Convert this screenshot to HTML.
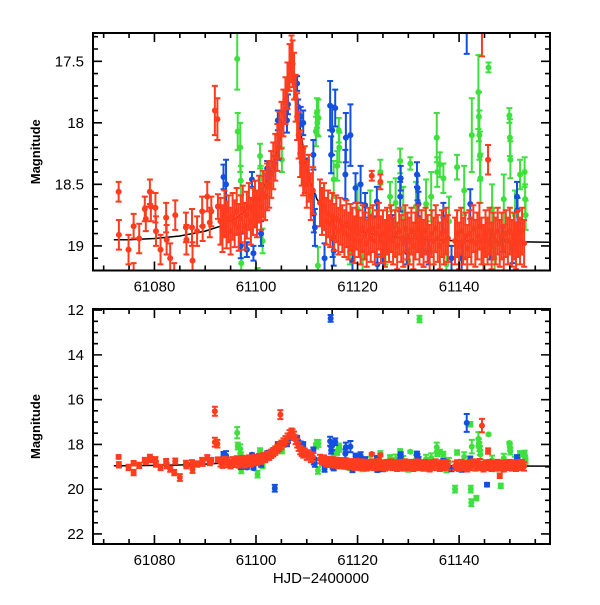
<!DOCTYPE html>
<html><head><meta charset="utf-8"><style>
html,body{margin:0;padding:0;background:#fff}
svg text{font-family:"Liberation Sans",sans-serif;fill:#000}
</style></head><body>
<svg id="c" width="600" height="600" viewBox="0 0 600 600" xmlns="http://www.w3.org/2000/svg"></svg>
<script>
const modelT=[61072,61075,61080,61085,61090,61093,61096,61099,61101,61103,61104.5,61105.5,61106.3,61106.8,61107.0,61107.3,61107.8,61108.5,61109.5,61110.5,61112,61114,61117,61120,61125,61130,61140,61158];
const modelM=[18.95,18.95,18.94,18.92,18.88,18.84,18.78,18.68,18.57,18.38,18.18,17.95,17.72,17.55,17.48,17.55,17.75,18.0,18.25,18.45,18.62,18.74,18.83,18.88,18.92,18.94,18.96,18.97];

const redT=[61072.95,61073.0,61074.9,61075.9,61075.9,61077.0,61078.1,61078.3,61079.1,61079.3,61080.2,61080.3,61081.2,61082.3,61082.4,61083.1,61083.9,61084.1,61085.0,61086.2,61086.3,61087.4,61087.5,61088.4,61089.4,61089.5,61090.4,61090.9,61091.2,61091.9,61091.9,61092.4,61092.5,61104.8,61122.8,61124.5,61145.7,61144.5,61148.0];
const redM=[18.56,18.91,19.03,18.84,19.26,18.94,18.70,18.78,18.56,18.68,18.69,18.88,19.03,18.77,18.95,19.10,19.26,18.75,19.48,18.85,18.95,18.85,19.12,18.88,18.72,18.84,18.60,18.81,18.72,16.52,17.90,17.97,18.68,16.67,18.43,18.48,18.30,17.16,19.40];
const redE=[0.08,0.12,0.12,0.1,0.12,0.12,0.1,0.1,0.1,0.12,0.12,0.12,0.12,0.12,0.12,0.12,0.12,0.12,0.15,0.12,0.12,0.15,0.15,0.12,0.12,0.12,0.12,0.12,0.12,0.2,0.2,0.17,0.1,0.2,0.04,0.06,0.12,0.3,0.1];

const redDenseT=[61093.0,61093.4,61093.8,61094.2,61094.6,61095.0,61095.4,61095.8,61096.2,61096.6,61097.0,61097.4,61097.8,61098.2,61098.6,61099.0,61099.4,61099.8,61100.2,61100.6,61101.0,61101.4,61101.8,61102.2,61102.6,61103.0,61103.4,61103.8,61104.2,61104.6,61105.0,61105.4,61105.8,61106.2,61106.6,61107.0,61107.2,61107.5,61107.8,61108.1,61108.4,61108.7,61109.0,61109.3,61109.6,61110.0,61110.4,61110.8,61111.2,61112.6,61113.0,61113.4,61113.8,61114.2,61114.6,61115.0,61115.4,61115.8,61116.2,61116.6,61117.0,61117.4,61117.8,61118.2,61118.6,61119.0,61119.4,61119.8,61120.2,61120.6,61121.0,61121.4,61121.8,61122.2,61122.6,61123.0,61123.4,61123.8,61124.2,61124.6,61125.0,61125.4,61125.8,61126.2,61126.6,61127.0,61127.4,61127.8,61128.2,61128.6,61129.0,61129.4,61129.8,61130.2,61130.6,61131.0,61131.4,61131.8,61132.2,61132.6,61133.0,61133.4,61133.8,61134.2,61134.6,61135.0,61135.4,61135.8,61136.2,61136.6,61137.0,61137.4,61137.8,61139.2,61139.6,61140.0,61140.4,61140.8,61141.2,61141.6,61142.0,61142.4,61142.8,61143.2,61143.6,61144.0,61144.4,61144.8,61145.2,61145.6,61146.0,61146.4,61146.8,61147.2,61147.6,61148.0,61148.4,61148.8,61149.2,61149.6,61150.0,61150.4,61150.8,61151.2,61151.6,61152.0,61152.4,61152.8];
const redDenseM=[18.80,18.86,18.74,18.83,18.78,18.88,18.76,18.82,18.72,18.85,18.78,18.70,18.84,18.75,18.68,18.80,18.72,18.66,18.74,18.62,18.68,18.58,18.60,18.52,18.50,18.42,18.35,18.28,18.20,18.10,18.02,17.92,17.82,17.70,17.55,17.48,17.52,17.62,17.80,17.95,18.10,18.25,18.32,18.40,18.38,18.50,18.45,18.60,18.55,18.65,18.72,18.68,18.80,18.74,18.82,18.76,18.85,18.78,18.88,18.80,18.86,18.90,18.82,18.92,18.85,18.88,18.95,18.84,18.90,18.96,18.86,18.92,18.98,18.88,18.94,18.86,18.96,18.90,18.84,18.95,18.90,18.98,18.88,18.94,18.86,18.96,18.90,19.00,18.88,18.94,18.98,18.86,18.92,18.96,18.88,19.00,18.92,18.86,18.96,18.90,18.98,18.88,18.94,19.02,18.90,18.96,18.86,18.94,19.00,18.90,18.96,18.88,18.94,18.96,18.90,19.00,18.88,18.96,18.92,19.02,18.90,18.96,18.86,18.98,18.92,18.84,18.96,19.02,18.90,18.96,18.88,19.00,18.92,18.96,18.88,18.98,18.92,19.02,18.90,18.96,18.88,18.98,18.92,19.00,18.90,18.96,18.88,18.98];
const redDenseErr=0.19;

const blueT=[61093.6,61093.9,61094.1,61098.2,61099.2,61099.4,61099.5,61102.2,61102.4,61103.5,61103.7,61104.3,61104.4,61106.1,61106.3,61108.1,61108.3,61108.8,61109.3,61110.0,61111.3,61111.4,61111.6,61114.6,61114.7,61114.8,61115.0,61115.1,61115.3,61115.6,61117.6,61117.7,61118.6,61119.6,61120.6,61121.5,61123.8,61123.9,61126.8,61128.4,61128.5,61129.7,61131.7,61131.8,61132.0,61136.9,61141.5,61142.2,61145.5,61146.1,61151.4,61151.5,61134.0,61138.5,61148.5,61097.0,61101.0,61113.5,61119.0,61125.0,61133.0,61140.5,61150.5];
const blueM=[18.44,18.80,18.50,19.03,18.46,18.70,19.06,18.37,18.45,18.33,19.96,17.98,18.20,17.98,17.85,17.68,17.87,17.95,18.00,18.39,18.26,18.74,18.85,17.86,12.37,18.26,18.06,18.94,19.04,17.88,18.42,18.12,18.10,18.53,18.50,18.67,18.64,19.15,18.85,18.60,18.45,19.05,18.42,18.53,18.66,18.77,17.04,18.66,19.80,18.99,18.60,18.71,19.05,19.10,18.95,19.0,18.9,19.1,19.12,19.08,19.05,19.1,19.02];
const blueE=[0.1,0.08,0.2,0.06,0.06,0.08,0.06,0.06,0.08,0.06,0.15,0.08,0.1,0.1,0.08,0.06,0.06,0.08,0.1,0.1,0.12,0.15,0.15,0.2,0.15,0.15,0.2,0.15,0.12,0.15,0.2,0.2,0.25,0.12,0.15,0.1,0.12,0.08,0.1,0.12,0.1,0.1,0.1,0.1,0.1,0.12,0.4,0.12,0.08,0.12,0.12,0.1,0.1,0.1,0.1,0.1,0.1,0.12,0.12,0.12,0.12,0.12,0.12];

const greenT=[61096.3,61096.4,61096.9,61097.0,61097.1,61100.3,61100.8,61100.9,61101.3,61105.1,61112.0,61112.1,61112.3,61111.8,61112.2,61115.3,61116.3,61116.4,61116.0,61124.5,61126.4,61128.4,61130.4,61132.2,61135.6,61135.7,61136.2,61136.9,61139.2,61139.6,61142.2,61142.3,61142.4,61142.5,61143.4,61143.8,61143.9,61144.0,61144.1,61144.2,61145.8,61148.2,61149.9,61150.0,61150.1,61152.0,61152.9,61153.0,61153.1,61121.0,61125.5,61130.0,61137.5,61147.0,61118.5,61120.0,61122.5,61127.5,61129.0,61131.5,61134.5,61138.0,61141.0,61146.5,61148.8,61151.0,61133.5];
const greenM=[17.48,18.07,18.20,18.47,19.14,19.33,18.27,18.45,18.96,18.30,17.92,18.00,17.96,18.07,19.16,18.46,18.06,18.20,18.35,18.40,18.60,18.31,18.33,12.40,18.12,18.40,18.34,18.45,20.00,18.36,17.10,20.00,20.60,18.10,20.40,17.75,17.95,18.10,18.27,18.45,17.55,19.85,17.94,18.12,18.30,18.42,18.40,18.62,18.75,19.10,19.05,19.12,19.15,19.10,19.05,18.70,18.75,18.65,18.72,18.68,18.60,18.80,18.55,18.70,18.62,18.75,18.66];
const greenE=[0.25,0.15,0.2,0.12,0.15,0.15,0.1,0.1,0.1,0.1,0.12,0.1,0.15,0.12,0.15,0.15,0.1,0.12,0.12,0.1,0.12,0.1,0.05,0.15,0.2,0.12,0.1,0.12,0.15,0.1,0.1,0.15,0.15,0.3,0.1,0.3,0.2,0.2,0.2,0.2,0.04,0.1,0.06,0.15,0.15,0.12,0.12,0.12,0.12,0.1,0.1,0.1,0.1,0.1,0.1,0.2,0.2,0.2,0.2,0.2,0.2,0.2,0.2,0.2,0.2,0.2,0.2];

const topYTicks=[17.5,18,18.5,19];
const topYLabels=["17.5","18","18.5","19"];
const botYTicks=[12,14,16,18,20,22];
const botYLabels=["12","14","16","18","20","22"];
const xTicks=[61080,61100,61120,61140];
const xLabels=["61080","61100","61120","61140"];

const NS="http://www.w3.org/2000/svg";
const svg=document.getElementById('c');
const X0=93,X1=550,T0=61067.9,T1=61157.9;
function xs(t){return X0+(t-T0)/(T1-T0)*(X1-X0);}
const P=[{y0:33,y1:270.5,m0:17.27,m1:19.2,name:'top'},{y0:309,y1:544,m0:11.95,m1:22.45,name:'bottom'}];
function ys(p,m){return p.y0+(m-p.m0)/(p.m1-p.m0)*(p.y1-p.y0);}
function el(tag,a,parent){const e=document.createElementNS(NS,tag);for(const k in a)e.setAttribute(k,a[k]);(parent||svg).appendChild(e);return e;}

P.forEach((p,pi)=>{
  const g=el('g',{});
  
  
  const cid='clip'+pi;
  const defs=el('defs',{},g);
  const cp=el('clipPath',{id:cid},defs);
  el('rect',{x:X0,y:p.y0,width:X1-X0,height:p.y1-p.y0},cp);
  const dg=el('g',{'clip-path':'url(#'+cid+')'},g);
  
  
  let d='';
  modelT.forEach((t,i)=>{d+=(i?'L':'M')+xs(t).toFixed(1)+','+ys(p,modelM[i]).toFixed(1);});
  const ml=el('path',{d:d,fill:'none',stroke:'#000','stroke-width':1.5},dg);
  
  
  function series(T,M,E,color,name){
    const sg=el('g',{},dg);
    
    
    T.forEach((t,i)=>{
      const e=Array.isArray(E)?E[i]:E;
      const x=xs(t),y=ys(p,M[i]),ya=ys(p,M[i]-e),yb=ys(p,M[i]+e);
      el('path',{d:`M${x},${ya}L${x},${yb}M${x-3},${ya}L${x+3},${ya}M${x-3},${yb}L${x+3},${yb}`,stroke:color,'stroke-width':2,fill:'none'},sg);
      const c=el('circle',{cx:x,cy:y,r:3,fill:color},sg);
      
      
    });
  }
  series(greenT,greenM,greenE,'#3ee03e','green');
  series(blueT,blueM,blueE,'#1450e0','blue');
  series(redT,redM,redE,'#ff3c1e','red');
  series(redDenseT,redDenseM,redDenseErr,'#ff3c1e','red-dense');
  const fr=el('rect',{x:X0,y:p.y0,width:X1-X0,height:p.y1-p.y0,fill:'none',stroke:'#000','stroke-width':2},g);
  
  
  let td='';
  for(let t=61070;t<=T1;t+=5){const x=xs(t);const L=(t%20===0)?9:5;td+=`M${x},${p.y1}L${x},${p.y1-L}M${x},${p.y0}L${x},${p.y0+L}`;}
  const maj=pi===0?0.5:2, mn=pi===0?0.1:0.5;
  const start=Math.ceil(p.m0/mn-1e-6)*mn;
  for(let m=start;m<=p.m1+1e-6;m+=mn){const y=ys(p,m);const isMaj=Math.abs(m/maj-Math.round(m/maj))<1e-3;const L=isMaj?9:5;td+=`M${X0},${y}L${X0+L},${y}M${X1},${y}L${X1-L},${y}`;}
  const tk=el('path',{d:td,stroke:'#000','stroke-width':1.6,fill:'none'},g);
  
  
  const yt=pi===0?topYTicks:botYTicks, yl=pi===0?topYLabels:botYLabels;
  yt.forEach((m,i)=>{const tx=el('text',{x:84,y:ys(p,m)+5,'text-anchor':'end','font-size':15},g);tx.textContent=yl[i];
    });
  xTicks.forEach((t,i)=>{const tx=el('text',{x:xs(t),y:p.y1+21,'text-anchor':'middle','font-size':15},g);tx.textContent=xLabels[i];
    });
  const yt2=el('text',{x:0,y:0,'text-anchor':'middle','font-size':13,'font-weight':'bold',transform:`translate(40,${(p.y0+p.y1)/2}) rotate(-90)`},g);
  yt2.textContent='Magnitude';
  
  
});
const xt=el('text',{x:321,y:583,'text-anchor':'middle','font-size':15},svg);
xt.textContent='HJD\u22122400000';


</script>
</body></html>
